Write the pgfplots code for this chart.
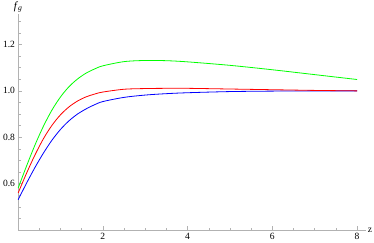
\documentclass[border=0pt]{standalone}
\usepackage{fontspec}
\setmainfont{Liberation Serif}
\usepackage{pgfplots}
\pgfplotsset{compat=1.18}
\definecolor{axgray}{gray}{0.7}
\begin{document}
\fontsize{9}{11}\selectfont
\begin{tikzpicture}
\begin{axis}[
  scale only axis,
  width=346pt, height=215pt,
  xmin=0, xmax=8.2, ymin=0.4, ymax=1.33,
  axis lines=left,
  axis line style={axgray, line width=0.6pt, -},
  every tick/.style={axgray, line width=0.5pt},
  tick align=inside,
  major tick length=4pt, minor tick length=2.5pt,
  xtick={2,4,6,8}, minor xtick={0.5,1,1.5,2.5,3,3.5,4.5,5,5.5,6.5,7,7.5},
  ytick={0.6,0.8,1.0,1.2},
  minor ytick={0.45,0.5,0.55,0.65,0.7,0.75,0.85,0.9,0.95,1.05,1.1,1.15,1.25,1.3},
  /pgf/number format/assume math mode=true,
  yticklabel style={/pgf/number format/.cd, fixed, fixed zerofill, precision=1},
  xticklabel style={/pgf/number format/.cd, fixed, precision=0},
  tick label style={font=\fontsize{9.5}{11}\selectfont, text=black},
  xlabel={z}, ylabel={\textit{f}\textsubscript{\textit{g}}},
  xlabel style={at={(axis cs:8.2,0.4)}, anchor=west, inner sep=2pt, font=\fontsize{9.5}{11}\selectfont},
  ylabel style={at={(axis cs:0,1.33)}, anchor=south, rotate=-90, inner sep=1.5pt, font=\fontsize{11}{13}\selectfont},
  clip=false,
]
\addplot[blue, line width=0.8pt, smooth] coordinates {
(0,0.531) (0.2,0.603) (0.4,0.671) (0.6,0.733) (0.8,0.788) (1.0,0.834)
(1.2,0.871) (1.4,0.900) (1.6,0.922) (1.8,0.940) (2.0,0.954) (2.5,0.972)
(3.0,0.982) (3.5,0.988) (4.0,0.992) (5.0,0.997) (6.0,0.999) (7.0,1.0) (8.0,1.0)};
\addplot[red, line width=0.8pt, smooth] coordinates {
(0,0.560) (0.2,0.646) (0.4,0.725) (0.6,0.795) (0.8,0.852) (1.0,0.897)
(1.2,0.931) (1.4,0.956) (1.6,0.974) (1.8,0.986) (2.0,0.995) (2.5,1.007)
(3.0,1.010) (3.5,1.011) (4.0,1.011) (5.0,1.008) (6.0,1.005) (7.0,1.002) (8.0,1.000)};
\addplot[green, line width=0.8pt, smooth] coordinates {
(0,0.581) (0.2,0.677) (0.4,0.768) (0.6,0.849) (0.8,0.918) (1.0,0.974)
(1.2,1.018) (1.4,1.051) (1.6,1.076) (1.8,1.094) (2.0,1.108) (2.5,1.126)
(3.0,1.131) (3.5,1.130) (4.0,1.125) (5.0,1.110) (6.0,1.091) (7.0,1.070) (8.0,1.049)};
\end{axis}
\end{tikzpicture}
\end{document}
